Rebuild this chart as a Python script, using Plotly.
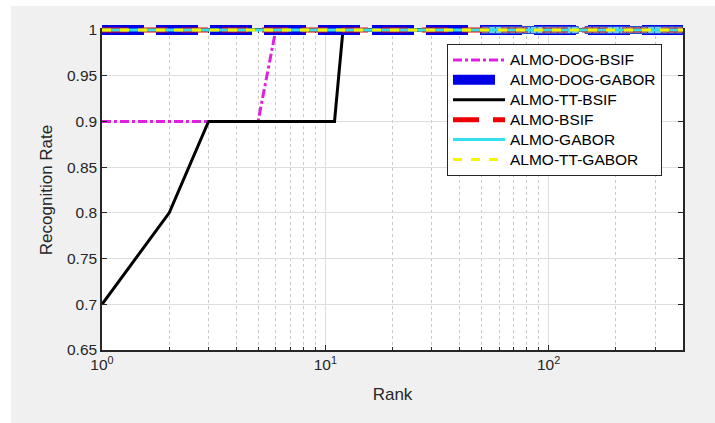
import plotly.graph_objects as go

# ---------------- data ----------------
dog_bsif_rank = [1, 2, 3, 4, 5, 6, 400]
dog_bsif_rate = [0.9, 0.9, 0.9, 0.9, 0.9, 1.0, 1.0]

dog_gabor_rank = [1, 400]
dog_gabor_rate = [1.0, 1.0]

tt_bsif_rank = [1, 2, 3, 4, 5, 6, 7, 8, 9, 10, 11, 12, 400]
tt_bsif_rate = [0.7, 0.8, 0.9, 0.9, 0.9, 0.9, 0.9, 0.9, 0.9, 0.9, 0.9, 1.0, 1.0]

bsif_rank = [1, 400]
bsif_rate = [1.0, 1.0]

gabor_rank = [1, 400]
gabor_rate = [1.0, 1.0]

tt_gabor_rank = [1, 400]
tt_gabor_rate = [1.0, 1.0]

marker_rank = [52, 56, 60, 64, 69, 74, 80, 86, 92, 99, 106, 114, 122, 131,
               151, 163, 175, 188, 201, 216, 232, 249, 268, 288, 309, 332,
               356, 383, 400]
marker_rate = [1.0] * len(marker_rank)

series_names = ["ALMO-DOG-BSIF", "ALMO-DOG-GABOR", "ALMO-TT-BSIF",
                "ALMO-BSIF", "ALMO-GABOR", "ALMO-TT-GABOR"]

x_tick_vals = [1, 10, 100]
x_tick_text = ["10<sup>0</sup>", "10<sup>1</sup>", "10<sup>2</sup>"]
x_minor_vals = [2, 3, 4, 5, 6, 7, 8, 9, 20, 30, 40, 50, 60, 70, 80, 90, 200, 300]
y_tick_vals = [0.65, 0.7, 0.75, 0.8, 0.85, 0.9, 0.95, 1.0]
y_tick_text = ["0.65", "0.7", "0.75", "0.8", "0.85", "0.9", "0.95", "1"]

FONT = "Liberation Sans, Arial, sans-serif"
AX = "#262626"
GRID = "#dedede"


def lg(name):
    # larger legend text while keeping the compact legend row spacing
    return '<span style="font-size:15.5px">' + name + '</span>'


# layout geometry (pixels)
W, H = 715, 423
M_L, M_R, M_T, M_B = 102, 32, 20, 73
AXIS_TOP = 30          # pixel row of y = 1.0 (top frame)
Y_MIN, Y_MAX = 0.65, 1.0
X_RANGE = [0, 2.602]
plot_h = H - M_T - M_B
main_top = (H - M_B - AXIS_TOP) / plot_h
y2_max = Y_MIN + (Y_MAX - Y_MIN) / main_top

fig = go.Figure()

# main subplot (x, y)
fig.add_trace(go.Scatter(x=dog_bsif_rank, y=dog_bsif_rate, mode="lines",
                         name=lg(series_names[0]),
                         line=dict(color="#e020e0", width=3, dash="dashdot")))
# overlay subplot (x2, y2) lets the thick top lines spill over the frame
fig.add_trace(go.Scatter(x=dog_gabor_rank, y=dog_gabor_rate, mode="lines",
                         name=lg(series_names[1]), xaxis="x2", yaxis="y2",
                         line=dict(color="#0000e6", width=10, dash="42px,12px")))
fig.add_trace(go.Scatter(x=tt_bsif_rank, y=tt_bsif_rate, mode="lines",
                         name=lg(series_names[2]),
                         line=dict(color="#000000", width=3)))
fig.add_trace(go.Scatter(x=marker_rank, y=marker_rate, mode="markers",
                         showlegend=False, cliponaxis=False,
                         xaxis="x2", yaxis="y2",
                         marker=dict(symbol="square", size=7, color="#7cc4f0",
                                     line=dict(color="#1f4fd0", width=1))))
fig.add_trace(go.Scatter(x=bsif_rank, y=bsif_rate, mode="lines",
                         name=lg(series_names[3]), xaxis="x2", yaxis="y2",
                         line=dict(color="#ee0000", width=5, dash="26px,14px")))
fig.add_trace(go.Scatter(x=gabor_rank, y=gabor_rate, mode="lines",
                         name=lg(series_names[4]), xaxis="x2", yaxis="y2",
                         line=dict(color="#33e0ee", width=3)))
fig.add_trace(go.Scatter(x=tt_gabor_rank, y=tt_gabor_rate, mode="lines",
                         name=lg(series_names[5]), xaxis="x2", yaxis="y2",
                         line=dict(color="#f5f500", width=3, dash="dash")))

fig.update_layout(
    width=W, height=H,
    margin=dict(l=M_L, r=M_R, t=M_T, b=M_B),
    paper_bgcolor="#f0f0f0",
    plot_bgcolor="rgba(0,0,0,0)",
    font=dict(family=FONT, size=15, color=AX),
    showlegend=True,
    legend=dict(x=(447 - M_L) / (W - M_L - M_R),
                y=(H - M_B - 44) / plot_h,
                xanchor="left", yanchor="top",
                bgcolor="#ffffff", bordercolor=AX, borderwidth=1,
                font=dict(family=FONT, size=13, color="#000000"),
                itemwidth=52, tracegroupgap=0),
    xaxis=dict(type="log", range=X_RANGE, domain=[0, 1], anchor="y",
               tickmode="array", tickvals=x_tick_vals, ticktext=x_tick_text,
               ticks="inside", ticklen=5, tickcolor=AX,
               showline=True, linecolor=AX, linewidth=1.5, mirror="ticks",
               showgrid=True, gridcolor=GRID, gridwidth=1,
               minor=dict(tickmode="array", tickvals=x_minor_vals,
                          ticks="inside", ticklen=3, tickcolor=AX,
                          showgrid=True, gridcolor="#c8c8c8", griddash="dot",
                          gridwidth=1),
               zeroline=False,
               tickfont=dict(family=FONT, size=15.5, color=AX),
               title=dict(text="Rank", font=dict(family=FONT, size=17, color=AX),
                          standoff=16)),
    yaxis=dict(range=[Y_MIN, Y_MAX], domain=[0, main_top], anchor="x",
               tickmode="array", tickvals=y_tick_vals, ticktext=y_tick_text,
               ticks="inside", ticklen=5, tickcolor=AX,
               showline=True, linecolor=AX, linewidth=1.5, mirror="ticks",
               showgrid=True, gridcolor=GRID, gridwidth=1,
               zeroline=False,
               tickfont=dict(family=FONT, size=15.5, color=AX),
               title=dict(text="Recognition Rate",
                          font=dict(family=FONT, size=17, color=AX),
                          standoff=10)),
    xaxis2=dict(type="log", range=X_RANGE, domain=[0, 1], anchor="y2",
                visible=False, showgrid=False, zeroline=False),
    yaxis2=dict(range=[Y_MIN, y2_max], domain=[0, 1], anchor="x2",
                visible=False, showgrid=False, zeroline=False),
    shapes=[
        # white plotting area
        dict(type="rect", xref="paper", yref="y domain", layer="below",
             x0=0, x1=1, y0=0, y1=1,
             fillcolor="#ffffff", line=dict(width=0)),
        # white outer margins of the original screenshot
        dict(type="rect", xref="paper", yref="paper", layer="below",
             x0=-0.3, x1=(11 - M_L) / (W - M_L - M_R), y0=-0.4, y1=1.3,
             fillcolor="#ffffff", line=dict(width=0)),
        dict(type="rect", xref="paper", yref="paper", layer="below",
             x0=-0.3, x1=1.3, y0=(H - M_B - 6) / plot_h, y1=1.3,
             fillcolor="#ffffff", line=dict(width=0)),
    ],
)

fig.write_html("out.html",
               config={"displayModeBar": False},
               post_script="document.body.style.margin='0px';"
                           "document.body.style.overflow='hidden';")
